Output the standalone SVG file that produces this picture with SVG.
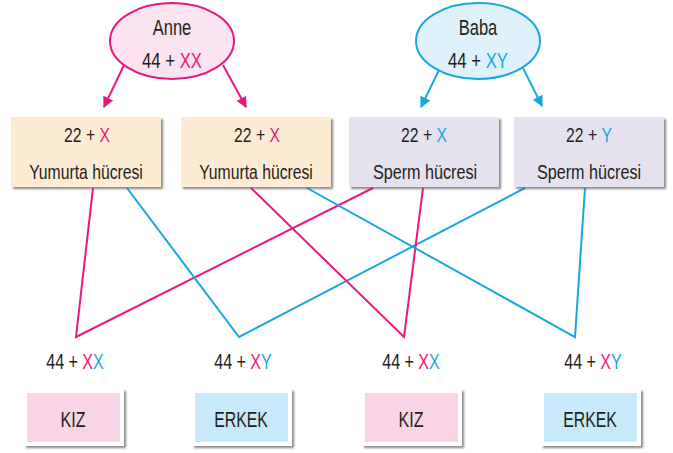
<svg xmlns="http://www.w3.org/2000/svg" width="673" height="453" viewBox="0 0 673 453">
<defs>
<style>
text{font-family:"Liberation Sans",Arial,sans-serif;fill:#231f20;text-anchor:middle}
.t{font-size:21px}
.b{font-size:22px}
.p{fill:#e8197d}
.c{fill:#17a8e1}
.lp{stroke:#e8197d;stroke-width:2;fill:none}
.lc{stroke:#17a8e1;stroke-width:2;fill:none}
.egg{fill:#fdebd3}
.sperm{fill:#e6e1ef}
.kiz{fill:#f9d3e6}
.erkek{fill:#c8e9f9}
</style>
<filter id="sh" x="-10%" y="-10%" width="130%" height="130%">
<feDropShadow dx="2" dy="2" stdDeviation="1" flood-color="#555" flood-opacity="0.7"/>
</filter>
<marker id="ap" viewBox="0 0 10 10" refX="9" refY="5" markerWidth="5.5" markerHeight="5.5" orient="auto" markerUnits="strokeWidth"><path d="M0,0 L10,5 L0,10 Z" fill="#e8197d"/></marker>
<marker id="ac" viewBox="0 0 10 10" refX="9" refY="5" markerWidth="5.5" markerHeight="5.5" orient="auto" markerUnits="strokeWidth"><path d="M0,0 L10,5 L0,10 Z" fill="#17a8e1"/></marker>
</defs>
<rect width="673" height="453" fill="#fff"/>

<g id="connectors">
<line class="lp" x1="124" y1="65" x2="104" y2="107" marker-end="url(#ap)"/>
<line class="lp" x1="223" y1="65" x2="246" y2="107" marker-end="url(#ap)"/>
<line class="lc" x1="439" y1="70" x2="421" y2="107" marker-end="url(#ac)"/>
<line class="lc" x1="523" y1="68" x2="542" y2="106" marker-end="url(#ac)"/>
<polyline class="lp" stroke-width="1.6" points="93,188 76,337 373,188"/>
<polyline class="lc" points="127,188 239,337 525,188"/>
<polyline class="lp" points="251,188 404,337 423,188"/>
<polyline class="lc" points="307,188 575,337 585,188"/>
</g>

<g id="anne">
<ellipse cx="172" cy="41" rx="62" ry="38" fill="#fbe3ef" stroke="#e8197d" stroke-width="2"/>
<g transform="translate(172,35) scale(0.75,1)"><text class="b">Anne</text></g>
<g transform="translate(172,68) scale(0.76,1)"><text class="b">44 + <tspan class="p">XX</tspan></text></g>
</g>
<g id="baba">
<ellipse cx="478" cy="41" rx="62" ry="38" fill="#dff2fb" stroke="#17a8e1" stroke-width="2"/>
<g transform="translate(478,35) scale(0.75,1)"><text class="b">Baba</text></g>
<g transform="translate(478,68) scale(0.76,1)"><text class="b">44 + <tspan class="c">XY</tspan></text></g>
</g>

<g id="egg1">
<rect class="egg" x="11" y="117" width="150" height="70" filter="url(#sh)"/>
<g transform="translate(87,142) scale(0.75,1)"><text class="t">22 + <tspan class="p">X</tspan></text></g>
<g transform="translate(86,179) scale(0.75,1)"><text class="t">Yumurta hücresi</text></g>
</g>
<g id="egg2">
<rect class="egg" x="181" y="117" width="150" height="70" filter="url(#sh)"/>
<g transform="translate(257,142) scale(0.75,1)"><text class="t">22 + <tspan class="p">X</tspan></text></g>
<g transform="translate(256,179) scale(0.75,1)"><text class="t">Yumurta hücresi</text></g>
</g>
<g id="sperm1">
<rect class="sperm" x="349" y="117" width="150" height="70" filter="url(#sh)"/>
<g transform="translate(424,142) scale(0.75,1)"><text class="t">22 + <tspan class="c">X</tspan></text></g>
<g transform="translate(425,179) scale(0.77,1)"><text class="t">Sperm hücresi</text></g>
</g>
<g id="sperm2">
<rect class="sperm" x="514" y="117" width="150" height="70" filter="url(#sh)"/>
<g transform="translate(589,142) scale(0.75,1)"><text class="t">22 + <tspan class="c">Y</tspan></text></g>
<g transform="translate(589,179) scale(0.77,1)"><text class="t">Sperm hücresi</text></g>
</g>

<g id="z1">
<g transform="translate(75,369) scale(0.73,1)"><text class="b">44 + <tspan class="p">X</tspan><tspan class="c">X</tspan></text></g>
</g>
<g id="z2">
<g transform="translate(243,369) scale(0.73,1)"><text class="b">44 + <tspan class="p">X</tspan><tspan class="c">Y</tspan></text></g>
</g>
<g id="z3">
<g transform="translate(411,369) scale(0.73,1)"><text class="b">44 + <tspan class="p">X</tspan><tspan class="c">X</tspan></text></g>
</g>
<g id="z4">
<g transform="translate(593,369) scale(0.73,1)"><text class="b">44 + <tspan class="p">X</tspan><tspan class="c">Y</tspan></text></g>
</g>

<g id="kiz1">
<rect x="24" y="389" width="100" height="57" fill="#fff" filter="url(#sh)"/>
<rect class="kiz" x="27" y="393" width="93" height="49"/>
<g transform="translate(73,427) scale(0.73,1)"><text class="b">KIZ</text></g>
</g>
<g id="erkek1">
<rect x="192" y="389" width="100" height="57" fill="#fff" filter="url(#sh)"/>
<rect class="erkek" x="195" y="393" width="93" height="49"/>
<g transform="translate(241,427) scale(0.72,1)"><text class="b">ERKEK</text></g>
</g>
<g id="kiz2">
<rect x="362" y="389" width="100" height="57" fill="#fff" filter="url(#sh)"/>
<rect class="kiz" x="365" y="393" width="93" height="49"/>
<g transform="translate(411,427) scale(0.73,1)"><text class="b">KIZ</text></g>
</g>
<g id="erkek2">
<rect x="541" y="389" width="100" height="57" fill="#fff" filter="url(#sh)"/>
<rect class="erkek" x="544" y="393" width="93" height="49"/>
<g transform="translate(590,427) scale(0.72,1)"><text class="b">ERKEK</text></g>
</g>
</svg>
